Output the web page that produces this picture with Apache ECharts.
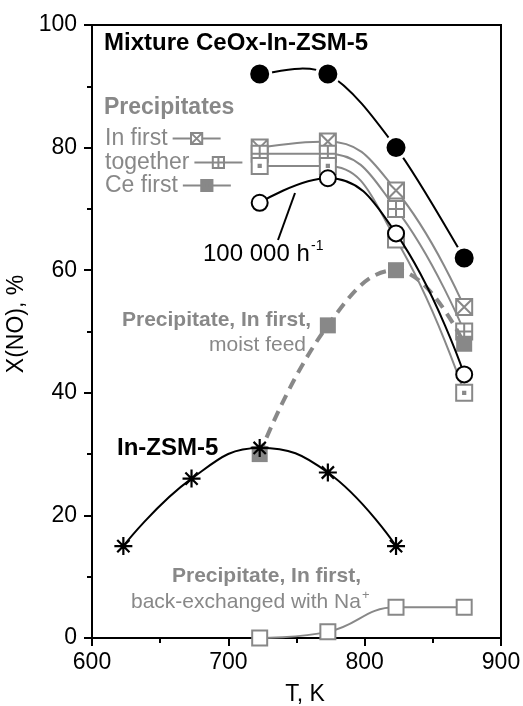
<!DOCTYPE html>
<html>
<head>
<meta charset="utf-8">
<script src="https://cdn.jsdelivr.net/npm/echarts@6/dist/echarts.min.js"></script>
<style>html,body{margin:0;padding:0;background:#fff;overflow:hidden}#c{width:523px;height:706px}</style>
</head>
<body>
<div id="c"></div>
<script>
const temps = [723, 773, 823, 873];
const tempsZsm = [623, 673, 723, 773, 823];
const xTicks = [600, 700, 800, 900];
const yTicks = [0, 20, 40, 60, 80, 100];

const mixture = [92, 92, 80, 62];
const mixtureHighGhsv = [71, 75, 66, 43];
const precipInFirst = [80, 81, 73, 54];
const precipTogether = [79, 79, 70, 50];
const precipCeFirst = [77, 77, 65, 40];
const moistFeed = [30, 51, 60, 48];
const inZsm5 = [15, 26, 31, 27, 15];
const backExchanged = [0, 1, 5, 5];

const FONT = 'Liberation Sans';
const GRAY = '#888888';
const BLACK = '#000000';

const SYM_XBOX = 'path://M0,0H10V10H0Z M0,0L10,10 M10,0L0,10';
const SYM_PLUSBOX = 'path://M0,0H10V10H0Z M5,0V10 M0,5H10';
const SYM_DOTBOX = 'path://M0,0H10V10H0Z M4.3,4.3H5.7V5.7H4.3Z';
const SYM_STAR = 'path://M5,0V10 M0,5H10 M1.6,1.6L8.4,8.4 M8.4,1.6L1.6,8.4';

function pairs(xs, ys) { return xs.map((x, i) => [x, ys[i]]); }

function splineRender(xs, ys, style) {
  return function (params, api) {
    const p = xs.map((x, i) => api.coord([x, ys[i]]));
    let d = 'M' + p[0][0] + ',' + p[0][1];
    for (let i = 0; i < p.length - 1; i++) {
      const p0 = p[i - 1] || p[i], p1 = p[i], p2 = p[i + 1], p3 = p[i + 2] || p[i + 1];
      const c1 = [p1[0] + (p2[0] - p0[0]) / 6, p1[1] + (p2[1] - p0[1]) / 6];
      const c2 = [p2[0] - (p3[0] - p1[0]) / 6, p2[1] - (p3[1] - p1[1]) / 6];
      d += ' C' + c1[0] + ',' + c1[1] + ' ' + c2[0] + ',' + c2[1] + ' ' + p2[0] + ',' + p2[1];
    }
    return {type: 'path', shape: {pathData: d}, style: Object.assign({fill: 'none'}, style)};
  };
}

const chart = echarts.init(document.getElementById('c'), null, {renderer: 'canvas', width: 523, height: 706});

function legendBlock(name, top, extra) {
  return {
    data: [Object.assign({name: name}, extra || {})],
    left: 100, top: top, orient: 'vertical', align: 'right',
    itemWidth: 48, itemHeight: 14,
    textStyle: {fontFamily: FONT, fontSize: 23, color: GRAY},
    selectedMode: false
  };
}

const option = {
  animation: false,
  backgroundColor: '#fff',
  grid: {left: 92, right: 22, top: 25, bottom: 68, show: true, borderColor: BLACK, borderWidth: 2,
         containLabel: false, outerBoundsMode: 'none'},
  xAxis: {
    type: 'value', min: xTicks[0], max: xTicks[xTicks.length - 1], interval: 100,
    name: 'T, K', nameLocation: 'middle', nameGap: 45,
    nameTextStyle: {fontFamily: FONT, fontSize: 23, color: BLACK, padding: [0, 0, 0, 17]},
    axisLine: {lineStyle: {color: BLACK, width: 2}},
    axisTick: {show: true, length: 8, lineStyle: {color: BLACK, width: 2}},
    minorTick: {show: true, splitNumber: 2, length: 5, lineStyle: {color: BLACK, width: 2}},
    axisLabel: {fontFamily: FONT, fontSize: 23, color: BLACK, margin: 13},
    splitLine: {show: false}
  },
  yAxis: {
    type: 'value', min: yTicks[0], max: yTicks[yTicks.length - 1], interval: 20,
    name: 'X(NO), %', nameLocation: 'middle', nameGap: 52,
    nameTextStyle: {fontFamily: FONT, fontSize: 23, color: BLACK, padding: [0, 0, 0, 15]},
    axisLine: {lineStyle: {color: BLACK, width: 2}},
    axisTick: {show: true, length: 8, lineStyle: {color: BLACK, width: 2}},
    minorTick: {show: true, splitNumber: 2, length: 5, lineStyle: {color: BLACK, width: 2}},
    axisLabel: {fontFamily: FONT, fontSize: 23, color: BLACK, margin: 15},
    splitLine: {show: false}
  },
  legend: [
    legendBlock('In first', 122),
    legendBlock('together', 146),
    legendBlock('Ce first', 169, {itemStyle: {color: GRAY}})
  ],
  series: [
    {
      name: 'Mixture curve', type: 'custom', z: 4, silent: true,
      data: [[temps[0], mixture[0]]],
      renderItem: splineRender(temps, mixture, {stroke: BLACK, lineWidth: 2})
    },
    {
      name: 'Mixture', type: 'line', z: 5,
      data: pairs(temps, mixture),
      symbol: 'circle', symbolSize: 22,
      lineStyle: {width: 0, opacity: 0},
      itemStyle: {color: BLACK, borderColor: '#fff', borderWidth: 3}
    },
    {
      name: '100 000 h-1', type: 'line', smooth: 0.45, z: 6,
      data: pairs(temps, mixtureHighGhsv),
      symbol: 'circle', symbolSize: 16,
      lineStyle: {color: BLACK, width: 2},
      itemStyle: {color: '#fff', borderColor: BLACK, borderWidth: 2}
    },
    {
      name: 'In first', type: 'line', smooth: 0.45, z: 3,
      data: pairs(temps, precipInFirst),
      symbol: SYM_XBOX, symbolSize: 16,
      lineStyle: {color: GRAY, width: 2},
      itemStyle: {color: '#fff', borderColor: GRAY, borderWidth: 2}
    },
    {
      name: 'together', type: 'line', smooth: 0.45, z: 3,
      data: pairs(temps, precipTogether),
      symbol: SYM_PLUSBOX, symbolSize: 16,
      lineStyle: {color: GRAY, width: 2},
      itemStyle: {color: '#fff', borderColor: GRAY, borderWidth: 2}
    },
    {
      name: 'Ce first', type: 'line', smooth: 0.45, z: 3,
      data: pairs(temps, precipCeFirst),
      symbol: SYM_DOTBOX, symbolSize: 16,
      lineStyle: {color: GRAY, width: 2},
      itemStyle: {color: '#fff', borderColor: GRAY, borderWidth: 2}
    },
    {
      name: 'moist feed', type: 'line', smooth: 0.45, z: 4,
      data: pairs(temps, moistFeed),
      symbol: 'rect', symbolSize: 16,
      lineStyle: {color: GRAY, width: 4, type: [11, 7]},
      itemStyle: {color: GRAY}
    },
    {
      name: 'In-ZSM-5', type: 'line', smooth: 0.45, z: 7,
      data: pairs(tempsZsm, inZsm5),
      symbol: SYM_STAR, symbolSize: 18,
      lineStyle: {color: BLACK, width: 2},
      itemStyle: {color: 'none', borderColor: BLACK, borderWidth: 2.2}
    },
    {
      name: 'back-exchanged', type: 'line', smooth: 0.45, z: 3,
      data: pairs(temps, backExchanged),
      symbol: 'rect', symbolSize: 15,
      lineStyle: {color: GRAY, width: 2},
      itemStyle: {color: '#fff', borderColor: GRAY, borderWidth: 2}
    }
  ],
  graphic: [
    {type: 'text', left: 104, top: 31, z: 20,
     style: {text: 'Mixture CeOx-In-ZSM-5', font: 'bold 24px ' + FONT, fill: BLACK}},
    {type: 'text', left: 104, top: 96, z: 20,
     style: {text: 'Precipitates', font: 'bold 23px ' + FONT, fill: GRAY}},
    {type: 'text', left: 203, top: 242, z: 20,
     style: {text: '100 000 h', font: '24px ' + FONT, fill: BLACK}},
    {type: 'text', left: 311, top: 239, z: 20,
     style: {text: '-1', font: '14px ' + FONT, fill: BLACK}},
    {type: 'line', z: 20, shape: {x1: 278, y1: 240, x2: 295, y2: 193}, style: {stroke: BLACK, lineWidth: 2}},
    {type: 'text', right: 523 - 311, top: 310, z: 20,
     style: {text: 'Precipitate, In first,', font: 'bold 21px ' + FONT, fill: GRAY, align: 'right'}},
    {type: 'text', right: 523 - 306, top: 335, z: 20,
     style: {text: 'moist feed', font: '21px ' + FONT, fill: GRAY, align: 'right'}},
    {type: 'text', left: 117, top: 436, z: 20,
     style: {text: 'In-ZSM-5', font: 'bold 24px ' + FONT, fill: BLACK}},
    {type: 'text', left: 172, top: 566, z: 20,
     style: {text: 'Precipitate, In first,', font: 'bold 21px ' + FONT, fill: GRAY}},
    {type: 'text', left: 131, top: 592, z: 20,
     style: {text: 'back-exchanged with Na', font: '21px ' + FONT, fill: GRAY}},
    {type: 'text', left: 362, top: 589, z: 20,
     style: {text: '+', font: '13px ' + FONT, fill: GRAY}}
  ]
};
chart.setOption(option);
</script>
</body>
</html>
